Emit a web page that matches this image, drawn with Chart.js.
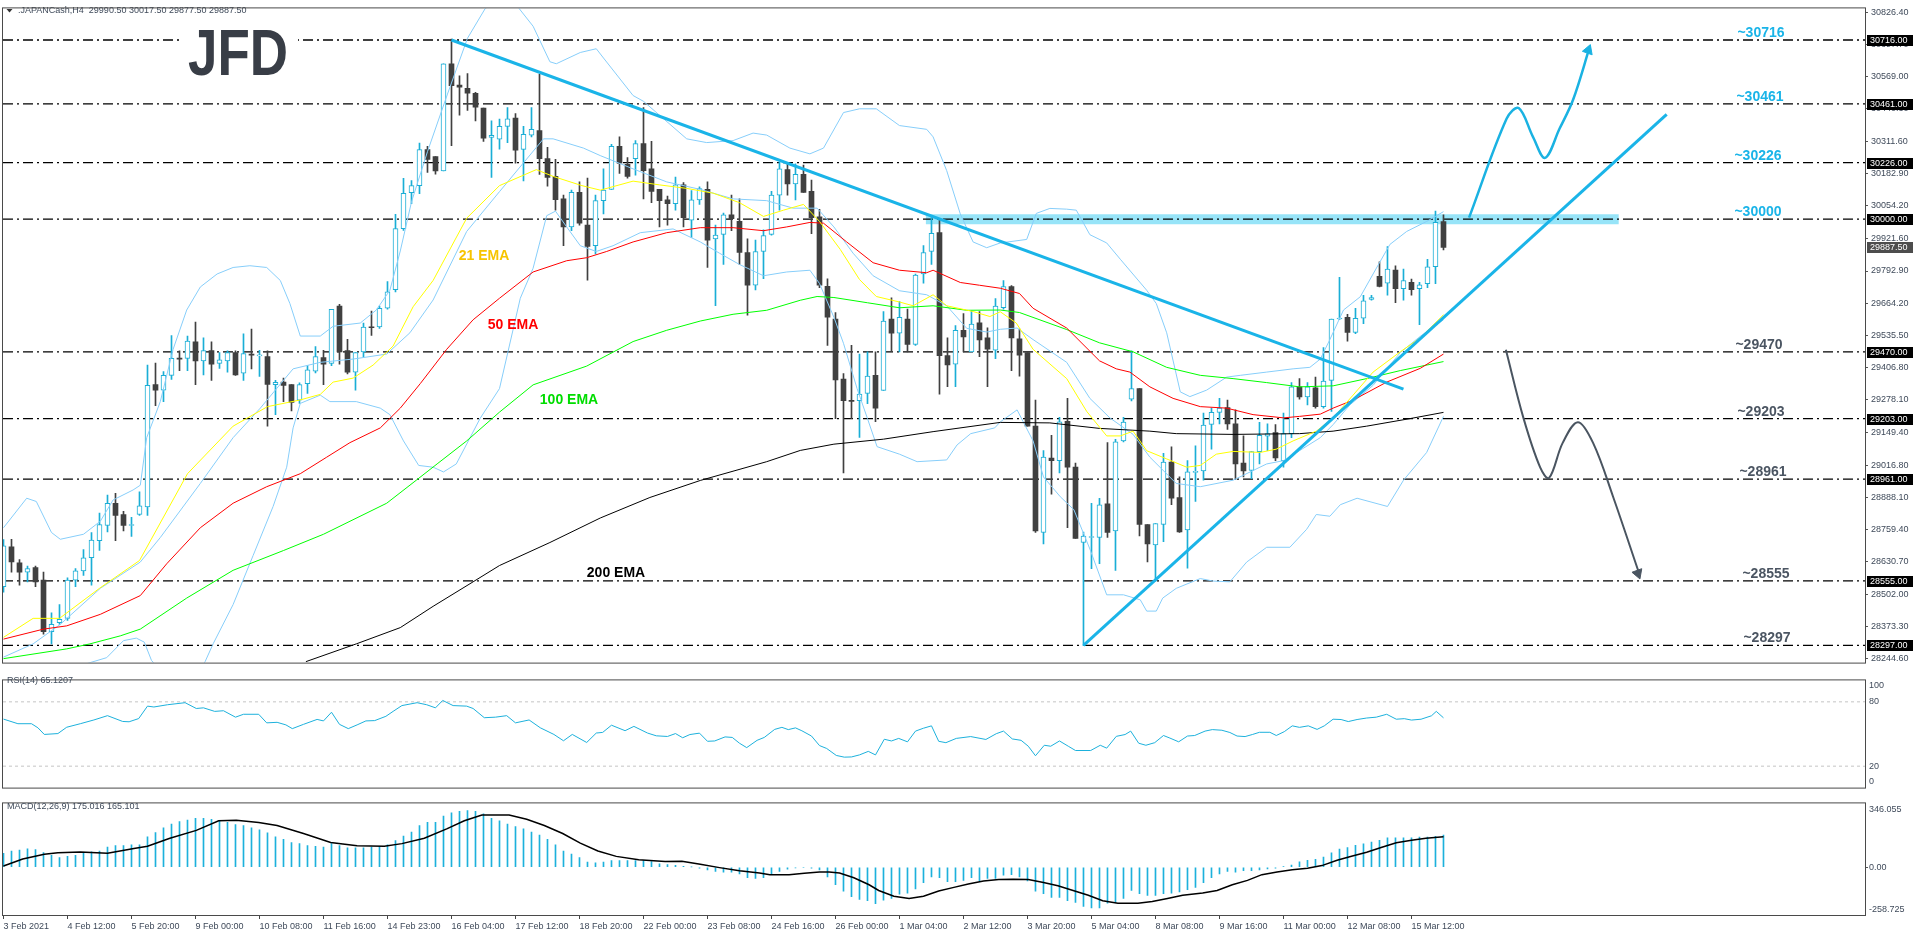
<!DOCTYPE html>
<html>
<head>
<meta charset="utf-8">
<title>JAPANCash H4</title>
<script src="https://cdn.jsdelivr.net/npm/chart.js@4.4.1/dist/chart.umd.min.js"></script>
<style>
  html, body { margin: 0; padding: 0; background: #fff; }
  body { width: 1916px; height: 936px; position: relative; overflow: hidden; }
  canvas { position: absolute; left: 0; }
</style>
</head>
<body>
<canvas id="mainChart" width="1916" height="671" style="top:0"></canvas>
<canvas id="rsiChart" width="1916" height="126" style="top:671px"></canvas>
<canvas id="macdChart" width="1916" height="139" style="top:797px"></canvas>
<script>
// H4 bars, index 0 = 3 Feb 2021
const barOpen = [
  28532, 28691, 28627, 28590, 28608, 28558, 28352, 28388, 28405, 28558,
  28595, 28647, 28715, 28776, 28865, 28820, 28776, 28820, 28850, 29339,
  29317, 29376, 29444, 29444, 29510, 29434, 29475, 29424, 29434, 29467,
  29385, 29459, 29454, 29451, 29339, 29349, 29339, 29277, 29343, 29393,
  29447, 29424, 29653, 29475, 29389, 29470, 29569, 29569, 29644, 29718,
  29962, 30106, 30134, 30278, 30250, 30193, 30621, 30536, 30523, 30503,
  30444, 30327, 30320, 30371, 30404, 30279, 30336, 30354, 30242, 30171,
  30081, 29969, 30107, 29976, 29894, 30074, 30119, 30291, 30219, 30242,
  30302, 30201, 30119, 30077, 30062, 30137, 29996, 30077, 30119, 29921,
  29939, 30017, 29991, 29867, 29736, 29871, 29939, 30096, 30198, 30141,
  30179, 30111, 30009, 29732, 29601, 29361, 29275, 29275, 29304, 29376,
  29316, 29601, 29545, 29601, 29500, 29781, 29871, 29946, 29455, 29421,
  29556, 29470, 29586, 29526, 29477, 29646, 29731, 29522, 29467, 29173,
  28748, 29045, 29035, 29192, 29009, 28708, 28728, 28728, 28863, 28754,
  29114, 29281, 29323, 28780, 28698, 28780, 29029, 28888, 28758, 28988,
  28994, 29180, 29228, 29247, 29182, 29025, 28996, 29071, 29133, 29147,
  29035, 29143, 29330, 29290, 29326, 29251, 29356, 29601, 29608, 29548,
  29604, 29679, 29772, 29744, 29797, 29722, 29748, 29722, 29742, 29810, 29990.5
];
const barHigh = [
  28720, 28721, 28640, 28614, 28614, 28590, 28427, 28460, 28567, 28604,
  28680, 28748, 28826, 28898, 28905, 28833, 28809, 28911, 29417, 29425,
  29391, 29535, 29474, 29533, 29589, 29526, 29510, 29467, 29474, 29474,
  29542, 29561, 29476, 29474, 29356, 29365, 29339, 29346, 29415, 29491,
  29476, 29640, 29660, 29520, 29467, 29585, 29633, 29653, 29751, 30019,
  30163, 30154, 30304, 30291, 30250, 30621, 30720, 30573, 30582, 30507,
  30444, 30393, 30400, 30446, 30422, 30371, 30446, 30579, 30287, 30239,
  30096, 30116, 30149, 30164, 30096, 30201, 30299, 30329, 30246, 30314,
  30446, 30311, 30119, 30092, 30168, 30146, 30114, 30129, 30149, 29976,
  30024, 30096, 30081, 29921, 29916, 29957, 30111, 30227, 30227, 30221,
  30216, 30156, 30039, 29762, 29627, 29383, 29496, 29461, 29470, 29470,
  29631, 29686, 29671, 29641, 29781, 29894, 30006, 30002, 29526, 29575,
  29623, 29635, 29631, 29566, 29683, 29755, 29735, 29561, 29467, 29277,
  29075, 29136, 29208, 29284, 29025, 28750, 28865, 28885, 29107, 29120,
  29208, 29474, 29323, 28780, 28784, 29064, 29090, 28970, 29035, 29094,
  29225, 29245, 29284, 29277, 29238, 29134, 29071, 29188, 29182, 29179,
  29225, 29347, 29363, 29347, 29369, 29487, 29601, 29768, 29620, 29644,
  29696, 29696, 29830, 29890, 29814, 29801, 29761, 29748, 29840, 30032, 30017.5
];
const barLow = [
  28510, 28590, 28538, 28551, 28532, 28342, 28303, 28381, 28397, 28532,
  28577, 28538, 28676, 28750, 28715, 28754, 28732, 28816, 28816, 29255,
  29271, 29360, 29395, 29395, 29339, 29378, 29356, 29404, 29389, 29376,
  29356, 29402, 29372, 29173, 29219, 29271, 29234, 29264, 29304, 29386,
  29339, 29415, 29421, 29382, 29317, 29451, 29536, 29563, 29640, 29709,
  29955, 30062, 30102, 30187, 30180, 30193, 30294, 30416, 30435, 30393,
  30311, 30167, 30280, 30306, 30224, 30153, 30329, 30179, 30132, 30036,
  29894, 29954, 29976, 29756, 29861, 30021, 30119, 30183, 30164, 30176,
  30081, 30066, 29969, 29976, 30036, 29969, 29927, 30059, 29807, 29654,
  29819, 29954, 29819, 29616, 29717, 29762, 29936, 30036, 30096, 30077,
  30107, 29942, 29726, 29496, 29203, 28986, 29203, 29128, 29263, 29191,
  29316, 29474, 29470, 29470, 29496, 29744, 29819, 29301, 29331, 29331,
  29470, 29470, 29451, 29331, 29443, 29640, 29395, 29373, 29173, 28748,
  28702, 28901, 28986, 28767, 28724, 28296, 28604, 28623, 28728, 28597,
  29110, 29274, 28734, 28630, 28554, 28711, 28859, 28748, 28606, 28872,
  28957, 29081, 29182, 29160, 28960, 28970, 28963, 29022, 29075, 29035,
  29009, 29127, 29281, 29258, 29245, 29245, 29232, 29598, 29513, 29543,
  29582, 29676, 29729, 29696, 29666, 29676, 29696, 29578, 29726, 29742, 29877.5
];
const barClose = [
  28695, 28630, 28590, 28604, 28551, 28352, 28381, 28401, 28558, 28595,
  28647, 28718, 28780, 28865, 28816, 28776, 28778, 28855, 29336, 29317,
  29376, 29444, 29441, 29513, 29434, 29475, 29421, 29438, 29467, 29378,
  29463, 29457, 29457, 29340, 29348, 29336, 29268, 29339, 29398, 29451,
  29421, 29640, 29470, 29389, 29467, 29569, 29566, 29644, 29710, 29962,
  30103, 30134, 30278, 30239, 30193, 30621, 30533, 30527, 30503, 30448,
  30324, 30335, 30371, 30401, 30276, 30339, 30359, 30242, 30167, 30078,
  29969, 30107, 29984, 29891, 30074, 30116, 30291, 30224, 30171, 30302,
  30194, 30111, 30074, 30062, 30137, 30006, 30077, 30122, 29916, 29936,
  30017, 30002, 29867, 29736, 29871, 29934, 30096, 30201, 30141, 30179,
  30107, 30006, 29736, 29608, 29358, 29275, 29272, 29301, 29373, 29245,
  29593, 29545, 29608, 29500, 29777, 29867, 29943, 29455, 29418, 29556,
  29530, 29581, 29518, 29481, 29653, 29731, 29526, 29457, 29173, 28754,
  29049, 29035, 29190, 29009, 28724, 28734, 28730, 28859, 28748, 29110,
  29189, 29323, 28780, 28702, 28784, 29029, 28885, 28750, 28990, 28990,
  29177, 29228, 29245, 29182, 29022, 28994, 29071, 29136, 29143, 29046,
  29143, 29330, 29290, 29330, 29251, 29353, 29601, 29604, 29548, 29604,
  29674, 29687, 29731, 29801, 29722, 29755, 29718, 29738, 29810, 29987, 29887.5
];

// time axis, one label every 8 bars
const timeLabels = ['3 Feb 2021', '4 Feb 12:00', '5 Feb 20:00', '9 Feb 00:00', '10 Feb 08:00',
  '11 Feb 16:00', '14 Feb 23:00', '16 Feb 04:00', '17 Feb 12:00', '18 Feb 20:00', '22 Feb 00:00',
  '23 Feb 08:00', '24 Feb 16:00', '26 Feb 00:00', '1 Mar 04:00', '2 Mar 12:00', '3 Mar 20:00',
  '5 Mar 04:00', '8 Mar 08:00', '9 Mar 16:00', '11 Mar 00:00', '12 Mar 08:00', '15 Mar 12:00'];

const priceTicks = [30826.4, 30697.7, 30569.0, 30440.3, 30311.6, 30182.9, 30054.2, 29921.6,
  29792.9, 29664.2, 29535.5, 29406.8, 29278.1, 29149.4, 29016.8, 28888.1, 28759.4, 28630.7,
  28502.0, 28373.3, 28244.6];

const levels = [30716, 30461, 30226, 30000, 29470, 29203, 28961, 28555, 28297];
const lastPrice = 29887.5;

// indicator lines as [bar, value]
const ema21 = [[0,28329],[3.7,28405],[7,28405],[12,28525],[17,28636],[23,28983],[28.7,29173],[33,29251],
  [37,29277],[39.6,29300],[41.2,29349],[43.7,29365],[46.2,29417],[48.7,29493],[51.2,29650],[53.7,29755],
  [57.9,30004],[62,30134],[66.6,30198],[68.7,30171],[72.3,30134],[74.6,30116],[78.7,30152],[82,30137],
  [85.4,30123],[88.7,30104],[92,30066],[95,30011],[97.5,30036],[100,30059],[102,29991],[104.6,29879],
  [107,29759],[109.1,29691],[112,29669],[113.7,29654],[116.2,29698],[117.9,29654],[121.2,29631],
  [123.3,29611],[124.6,29630],[126.6,29585],[128.7,29480],[132.9,29363],[135.4,29232],[137.9,29134],
  [139.6,29134],[141.2,29153],[142.9,29075],[145.4,29042],[147.9,29009],[149.6,29016],[151.6,29061],
  [153.7,29072],[157.1,29068],[159.1,29081],[161.2,29114],[164.1,29153],[166.2,29206],[168.7,29297],
  [171.2,29389],[174.6,29470],[177.1,29526],[180,29618]];
const ema50 = [[0,28322],[5,28362],[7.9,28375],[12.1,28421],[17.1,28496],[20.4,28623],[24.6,28767],
  [28.7,28865],[32.9,28931],[37.1,28983],[40.4,29049],[43.3,29107],[47.1,29166],[49.6,29245],[52.1,29343],
  [55.4,29480],[58.7,29598],[62,29684],[66.2,29789],[70.4,29834],[72.9,29846],[75.4,29871],[78.7,29909],
  [82.9,29946],[87.1,29966],[91.2,29966],[95,29954],[97.9,29969],[100.8,29987],[102.5,29984],[105.4,29909],
  [108.7,29826],[112,29796],[115.4,29786],[116.2,29796],[119.6,29747],[122,29736],[124.6,29724],[127,29703],
  [128.7,29644],[132.9,29565],[137,29434],[139.1,29402],[140.8,29389],[143.3,29330],[146.2,29284],
  [149.6,29251],[152.9,29245],[156.2,29219],[160,29206],[162,29212],[164.6,29221],[166.2,29245],
  [168.7,29277],[172.9,29349],[177.1,29404],[180,29461]];
const ema100 = [[0,28244],[7.9,28283],[10.8,28303],[14.6,28335],[17.1,28362],[22.9,28486],[28.7,28597],
  [35,28676],[40,28741],[47.9,28865],[51.6,28957],[54.2,29022],[57.9,29114],[62,29229],[66.2,29338],
  [72.9,29413],[78.7,29511],[82.9,29556],[87.1,29593],[91.2,29620],[95.4,29636],[99.6,29676],[101.7,29691],
  [103.8,29687],[108,29666],[112,29646],[116.2,29654],[120.4,29636],[124.6,29637],[127,29627],[132.9,29559],
  [137,29506],[141.2,29470],[145.4,29408],[149.6,29376],[153.7,29363],[157.9,29347],[162,29330],
  [166.2,29334],[170.4,29363],[174.6,29395],[180,29431]];
const ema200 = [[37.8,28232],[44.1,28303],[49.6,28368],[53.7,28453],[58.7,28551],[62,28616],[68.3,28708],
  [74.6,28806],[80.8,28888],[87.1,28956],[95.4,29031],[99.6,29076],[103.8,29101],[110,29121],[116.2,29151],
  [124.6,29188],[130.8,29186],[137,29164],[143.3,29153],[146.6,29143],[153.7,29140],[162,29143],
  [166.2,29153],[170.4,29173],[175.8,29203],[180,29228]];
const bbUpper = [[0,28767],[2.9,28885],[4.1,28872],[6,28748],[7.1,28721],[10,28741],[12.1,28793],
  [13.7,28878],[16.2,28918],[17.1,28937],[17.9,29127],[19.6,29271],[21.2,29480],[22.9,29637],[24.6,29729],
  [26.7,29781],[28.7,29807],[30.8,29814],[32.9,29807],[34.6,29755],[35.8,29663],[37.1,29533],[39.6,29533],
  [41.2,29572],[44.6,29585],[46.6,29637],[48.3,29716],[49.6,29873],[51,30069],[53,30270],[55.5,30500],
  [58,30723],[60.2,30841],[62,30880],[64,30860],[66.2,30771],[68.3,30629],[69.1,30621],[72.1,30666],
  [74.1,30681],[75,30644],[78.7,30494],[80,30471],[85.4,30321],[87.9,30306],[91.2,30314],[93.7,30344],
  [95.4,30336],[98.3,30284],[100.8,30261],[102.5,30284],[105,30426],[107,30441],[109.1,30441],[112,30374],
  [115.4,30359],[116.2,30329],[117.9,30194],[119.6,30021],[121.2,29909],[122.9,29886],[124.6,29905],
  [127.9,29919],[129.1,30023],[130.8,30043],[132.9,30040],[134.1,30036],[135.8,29938],[137.9,29905],
  [139.6,29840],[142.9,29716],[144.1,29663],[145.4,29546],[147.1,29310],[148.3,29291],[150.4,29317],
  [152.9,29369],[154.6,29376],[157.9,29389],[161.2,29402],[163.3,29408],[164.6,29441],[165.8,29519],
  [167.5,29637],[169.6,29690],[171.2,29781],[173.3,29899],[175.4,29951],[177.9,29991],[180,30030]];
const bbMiddle = [[0,28250],[3.7,28303],[7.1,28381],[12.1,28525],[17.1,28630],[19.6,28728],[24.6,28944],
  [28.7,29127],[32.1,29245],[36.2,29402],[39.6,29428],[43.7,29441],[47.9,29461],[50.8,29546],[53.7,29677],
  [57.9,29951],[62,30110],[67.5,30321],[68.7,30321],[72.5,30284],[74.6,30254],[78.7,30201],[82.9,30149],
  [87.1,30119],[91.2,30081],[95.4,30074],[98.7,30044],[101.7,30044],[103.8,29969],[106.2,29864],
  [108.7,29774],[112,29714],[115.4,29698],[117.9,29654],[120.4,29564],[122.9,29549],[124.6,29560],
  [126.7,29565],[128.7,29519],[132.9,29428],[135.8,29284],[138.3,29206],[141.2,29140],[143.3,29049],
  [146.6,28944],[149.6,28931],[153.7,28957],[157.9,29022],[160,29035],[162,29075],[164.6,29127],
  [166.2,29179],[168.3,29258],[171.2,29336],[174.6,29467],[177.1,29532],[180,29598]];
const bbLower = [[10.5,28225],[12.9,28248],[15,28316],[16.6,28326],[17.6,28310],[18.5,28237],[19.5,28200],
  [24.5,28200],[25.2,28232],[26.2,28303],[28.7,28460],[31.2,28656],[33.7,28852],[35.4,29009],[36.2,29166],
  [37.1,29264],[39.6,29297],[40.8,29271],[44.1,29271],[47.1,29245],[48.3,29219],[50,29114],[51.9,29016],
  [53.7,29009],[55,28990],[56.6,29022],[59.6,29205],[62,29323],[64.6,29684],[66.2,29804],[67.9,30014],
  [69,30032],[70.4,29969],[72.1,29894],[74.1,29871],[76.2,29894],[79.6,29946],[83.7,29961],[87.1,29909],
  [89.5,29864],[92,29819],[95,29774],[97.9,29789],[100.8,29796],[102,29743],[103.8,29608],[105,29504],
  [106.7,29323],[108,29203],[109.2,29091],[112,29061],[114.2,29031],[117.9,29038],[119.2,29098],
  [120.9,29143],[123.9,29166],[124.6,29190],[126.7,29238],[128.7,29114],[130,28970],[132.1,28891],
  [133.8,28839],[135.8,28682],[137.9,28499],[140,28499],[142.1,28479],[142.9,28434],[144.1,28434],
  [144.9,28486],[146.6,28525],[149.6,28564],[151.2,28554],[153.3,28551],[155.4,28630],[157.9,28689],
  [160.8,28689],[162.9,28761],[164.1,28820],[165.8,28813],[167.1,28859],[169.2,28885],[173,28852],
  [175,28957],[177.9,29068],[180,29212]];

const rsi14 = [[0,63.9],[1.8,59.6],[3.5,59.6],[4.3,55.8],[5.1,49.6],[6.8,50.4],[7.9,56.3],[9.6,59.6],
  [11.3,63.1],[13,67.1],[14.9,61.7],[15.7,61.4],[16.9,64.4],[18,76],[18.8,75.2],[20.5,77.3],[22.7,79.2],
  [24.1,73.8],[25,74.4],[26.4,71.1],[27.5,71.7],[29,65.7],[30,68.4],[31.9,68.4],[32.9,60.4],[34.2,60.9],
  [35.3,58.5],[36.1,55],[37.5,59],[39.2,63.6],[40,62.2],[41,70.3],[42,59],[43.1,55],[44.2,58.5],
  [45.3,62.2],[46.4,62.5],[47.8,66.5],[48.7,71.1],[49.8,76.5],[51.7,79.2],[52.9,77.3],[54,74.4],
  [54.9,81.3],[56.2,76.5],[57.9,76],[58.7,73.8],[60.1,65.2],[61.5,65.7],[62.9,67.1],[64,60.4],[65.7,63.1],
  [67.1,55.8],[68.8,49.6],[70,43.7],[71.1,49.6],[72.9,42.1],[74.1,50.9],[74.9,51.5],[76,58.2],[77.7,53.1],
  [78.8,57.1],[80.5,50.9],[81.6,48.3],[83,47.7],[84,50.4],[84.9,46.5],[85.8,49.5],[87,50.8],[88,43.2],
  [88.9,43.5],[90.2,47.3],[91.1,46.8],[92,41.4],[92.9,37.3],[94.2,44.1],[95.1,46.8],[96.4,54.3],
  [97.3,56.2],[98.1,54.1],[99,55.7],[99.8,53],[101,48.1],[102,39.2],[102.9,36.5],[104.1,30],[105.1,28.4],
  [106,28.6],[107,30.5],[108.1,33.8],[109,30.5],[110.1,45.1],[111,43.5],[111.9,45.9],[113,42.7],
  [114,52.7],[115,55.4],[116,57.6],[116.9,43.2],[117.8,41.9],[119.1,45.9],[120.9,47.6],[122.8,44.9],
  [124.1,50.3],[125,52.7],[126.1,45.4],[127.2,44.1],[128.1,38.6],[129,29.7],[130.1,39.5],[130.9,38.6],
  [132,43.5],[133.1,38.6],[134,34.6],[135.9,34.6],[137.1,39.5],[137.9,36.8],[139.1,47.8],[140.2,49.5],
  [140.9,52.7],[141.9,41.4],[142.8,39.5],[143.9,41.9],[145,48.6],[145.8,46.2],[146.9,42.7],[148,48.1],
  [148.9,48.6],[150.2,52.7],[151.1,54.1],[152.3,53.5],[153.3,51.4],[154.2,48.1],[155.2,47.6],[156.1,49.5],
  [157,51.6],[158.3,51.6],[159.1,48.6],[160.1,52.2],[161.1,57.6],[162,56.2],[163.1,57.6],[164.2,54.3],
  [165.1,57.6],[166.2,63.8],[167.2,63.5],[168.1,61.6],[169.2,63.5],[170.4,64.9],[171.6,65.7],[172.9,68.4],
  [174.1,63.8],[175.1,64.3],[176,63],[177.2,63.8],[178.5,67],[179.1,71.1],[180,65.1]];

// MACD main, one bar per H4 bar
const macdMain = [
  76, 88, 93, 100, 96, 79, 65, 53, 59, 65,
  79, 83, 88, 110, 117, 117, 121, 122, 165, 188,
  214, 234, 248, 255, 265, 265, 260, 252, 243, 231,
  226, 214, 203, 186, 165, 152, 134, 128, 117, 114,
  110, 128, 117, 105, 105, 105, 110, 114, 122, 145,
  169, 191, 226, 243, 243, 277, 295, 303, 307, 303,
  289, 265, 252, 234, 221, 208, 191, 174, 152, 122,
  88, 71, 53, 28, 24, 28, 36, 36, 36, 36,
  36, 31, 19, 14, 10, 5, 2, -5, -14, -22,
  -26, -26, -36, -57, -60, -57, -35, -22, -10, -4,
  0, -5, -14, -53, -95, -129, -160, -174, -181, -198,
  -178, -169, -146, -140, -117, -83, -53, -57, -78, -78,
  -71, -57, -74, -60, -60, -43, -40, -53, -74, -129,
  -143, -164, -164, -181, -191, -212, -220, -220, -195, -191,
  -169, -126, -143, -152, -152, -143, -140, -134, -122, -109,
  -83, -57, -36, -22, -26, -19, -19, -14, -9, -5,
  3, 12, 29, 38, 43, 55, 78, 98, 107, 119,
  127, 136, 146, 159, 159, 159, 159, 164, 164, 167, 175
];
const macdSignal = [[0,7],[2.4,45],[5.1,71],[6.8,79],[9.6,83],[13,76],[16.3,102],[18,114],[20.8,157],
  [24.1,200],[26.9,252],[29.1,255],[31.9,243],[34.2,226],[37.5,183],[40.9,134],[44.2,117],[47.6,114],
  [49.8,128],[52.6,157],[55.4,208],[57.6,252],[59.8,283],[63.2,283],[65.4,260],[67.6,226],[69.9,183],
  [72.1,131],[74.3,88],[76.6,59],[79.4,41],[82.7,31],[84.8,32],[87.1,16],[89.5,-2],[92,-19],[94.5,-31],
  [95.8,-40],[98.2,-40],[100.1,-33],[102,-26],[103.2,-26],[104.5,-31],[106.3,-57],[108.2,-95],
  [109.4,-126],[111.3,-157],[113.2,-169],[115,-157],[116.9,-129],[118.8,-109],[120.6,-91],[122.5,-74],
  [124.4,-67],[126.2,-65],[128.1,-67],[130,-83],[131.8,-100],[133.7,-126],[135.6,-152],[137.4,-181],
  [139.3,-195],[141.8,-195],[143.6,-186],[145.5,-169],[147.4,-152],[149.9,-140],[151.7,-126],[153.6,-95],
  [155.5,-71],[157.3,-40],[159.2,-26],[161.1,-14],[163,-5],[164.8,9],[166.7,38],[168.5,60],[170.4,81],
  [172.2,107],[174.1,133],[176,146],[177.8,157],[180,165]];

// analyst drawings, [bar, price]
const downTrend = [[56, 30716], [175, 29321]];
const upTrend = [[135, 28297], [207.9, 30419]];
const zone30000 = [[115.3, 30000], [201.9, 30000]];
const bullPath = [[183.2,30006],[187.9,30402],[189.4,30444],[191.2,30328],[192.7,30245],[194.5,30361],
  [196.2,30477],[198.3,30690]];
const bearPath = [[187.8,29478],[190,29205],[192.1,29007],[193.2,28966],[194.9,29106],[196.8,29189],
  [198.7,29106],[201.2,28891],[204.4,28590]];
const bullHead = [[198.1, 30675]];
const bearHead = [[204.3, 28585]];

// ---- look ----
Chart.defaults.font.family = '"Liberation Sans", Arial, sans-serif';
Chart.defaults.font.size = 9;
const TXT = '#3f4a5a';
const BULL = '#1aaed6', BEAR = '#404040';
const CYAN = '#1ab4e8', SLATE = '#4b5562';
const X_MIN = -0.0625, X_MAX = 232.69;
const AXIS_W = 51;
const levelTagX = [1761, 1760, 1758, 1758, 1759, 1761, 1763, 1766, 1767];
const emaTags = [
  {text: '21 EMA', color: '#f7c400', x: 484, y: 260},
  {text: '50 EMA', color: '#ff0000', x: 513, y: 329},
  {text: '100 EMA', color: '#00dd00', x: 569, y: 404},
  {text: '200 EMA', color: '#000000', x: 616, y: 577}
];

const xy = a => a.map(p => ({x: p[0], y: p[1]}));
const bars = barOpen.map((_, i) => i);
const rising = i => barClose[i] >= barOpen[i];

function lineDs(data, color, width, order, extra) {
  return Object.assign({type: 'line', data: xy(data), borderColor: color, borderWidth: width,
    pointRadius: 0, fill: false, tension: 0, order: order}, extra || {});
}
function headDs(data, color, rot) {
  return {type: 'line', data: xy(data), showLine: false, pointStyle: 'triangle', pointRadius: 6,
    pointRotation: rot, pointBackgroundColor: color, pointBorderColor: color, order: 0};
}

const frame = {
  id: 'frame',
  afterDraw(c) {
    const a = c.chartArea, ctx = c.ctx;
    ctx.save();
    ctx.strokeStyle = '#4a4a4a';
    ctx.lineWidth = 1;
    ctx.strokeRect(a.left - 0.5, a.top - 0.5, a.right - a.left + 1, a.bottom - a.top + 1);
    ctx.restore();
  }
};
const panelTitle = text => ({
  id: 'title_' + text.length,
  afterDraw(c) {
    const ctx = c.ctx;
    ctx.save();
    ctx.font = '9px "Liberation Sans"';
    ctx.fillStyle = TXT;
    ctx.textBaseline = 'middle';
    ctx.fillText(text, 7, 10);
    ctx.restore();
  }
});

const mainText = {
  id: 'mainText',
  afterDatasetsDraw(c) {
    const ctx = c.ctx, y = c.scales.y;
    ctx.save();
    // symbol header
    ctx.fillStyle = '#333';
    ctx.beginPath();
    ctx.moveTo(6.5, 9); ctx.lineTo(12.5, 9); ctx.lineTo(9.5, 12.5); ctx.closePath(); ctx.fill();
    ctx.font = '9px "Liberation Sans"';
    ctx.fillStyle = TXT;
    ctx.textBaseline = 'middle';
    ctx.fillText('.JAPANCash,H4  29990.50 30017.50 29877.50 29887.50', 18, 11);
    // logo
    ctx.fillStyle = '#fff';
    ctx.fillRect(180, 24, 118, 56);
    ctx.font = 'bold 65px "Liberation Sans"';
    ctx.textBaseline = 'alphabetic';
    const w = ctx.measureText('JFD').width;
    ctx.translate(188, 75);
    ctx.scale(100 / w, 1);
    ctx.fillStyle = '#383d46';
    ctx.fillText('JFD', 0, 0);
    ctx.setTransform(1, 0, 0, 1, 0, 0);
    // moving average names
    ctx.font = 'bold 14px "Liberation Sans"';
    ctx.textAlign = 'center';
    emaTags.forEach(t => { ctx.fillStyle = t.color; ctx.fillText(t.text, t.x, t.y); });
    // level names
    levels.forEach((lv, k) => {
      ctx.fillStyle = k < 4 ? CYAN : SLATE;
      ctx.fillText('~' + lv, levelTagX[k], y.getPixelForValue(lv) - 3);
    });
    ctx.restore();
  },
  afterDraw(c) {
    const ctx = c.ctx, y = c.scales.y;
    ctx.save();
    ctx.font = '9px "Liberation Sans"';
    ctx.textBaseline = 'middle';
    const box = (v, bg) => {
      const py = Math.round(y.getPixelForValue(v));
      ctx.fillStyle = bg;
      ctx.fillRect(1867, py - 5, 46, 11);
      ctx.fillStyle = '#fff';
      ctx.fillText(v.toFixed(2), 1870, py + 0.5);
    };
    levels.forEach(v => box(v, '#000'));
    box(lastPrice, '#4d4d4d');
    ctx.restore();
  }
};

const commonOpts = (top, bottom) => ({
  responsive: false,
  animation: false,
  devicePixelRatio: 1,
  events: [],
  layout: {autoPadding: false, padding: {left: 3, right: 0, top: top, bottom: bottom}},
  plugins: {legend: {display: false}, tooltip: {enabled: false}}
});
const hiddenX = {type: 'linear', min: X_MIN, max: X_MAX, display: false, offset: false};

// ---- price panel ----
const levelSets = levels.map(lv => lineDs([[X_MIN, lv], [X_MAX, lv]], '#000', 1.3, 7,
  {borderDash: [10, 4, 2, 4]}));

new Chart(document.getElementById('mainChart'), {
  type: 'bar',
  data: {
    datasets: [
      headDs(bullHead, '#1ab2e2', 20),
      headDs(bearHead, '#4a5561', 160),
      lineDs(bullPath, '#1ab2e2', 2.5, 1, {tension: 0.35}),
      lineDs(bearPath, '#4a5561', 2, 1, {tension: 0.35}),
      lineDs(downTrend, CYAN, 3, 2),
      lineDs(upTrend, CYAN, 3, 2),
      lineDs(ema21, '#ffff00', 1, 3),
      lineDs(ema50, '#ff0000', 1, 3),
      lineDs(ema100, '#00ff00', 1, 3),
      lineDs(ema200, '#000000', 1, 3),
      lineDs(bbUpper, '#87cefa', 1, 3),
      lineDs(bbMiddle, '#87cefa', 1, 3),
      lineDs(bbLower, '#87cefa', 1, 3),
      {type: 'bar', order: 4, grouped: false, barThickness: 5, minBarLength: 1,
        data: bars.filter(rising).map(i => ({x: i, y: [barOpen[i], barClose[i]]})),
        backgroundColor: '#ffffff', borderColor: BULL, borderWidth: 1, borderSkipped: false},
      {type: 'bar', order: 4, grouped: false, barThickness: 5, minBarLength: 1,
        data: bars.filter(i => !rising(i)).map(i => ({x: i, y: [barOpen[i], barClose[i]]})),
        backgroundColor: BEAR, borderWidth: 0},
      {type: 'bar', order: 5, grouped: false, barThickness: 1,
        data: bars.map(i => ({x: i, y: [barLow[i], barHigh[i]]})),
        backgroundColor: bars.map(i => rising(i) ? BULL : BEAR), borderWidth: 0},
      ...levelSets,
      lineDs(zone30000, '#97e4f8', 10, 8)
    ]
  },
  options: Object.assign(commonOpts(3, 2), {
    scales: {
      x: hiddenX,
      y: {
        position: 'right', min: 28228.2, max: 30842.2,
        afterFit: s => { s.width = AXIS_W; },
        afterBuildTicks: s => { s.ticks = priceTicks.map(v => ({value: v})); },
        ticks: {autoSkip: false, padding: 3, color: TXT, callback: v => Number(v).toFixed(2)},
        grid: {drawOnChartArea: false, tickLength: 3, color: '#555', tickColor: '#555'},
        border: {display: false}
      }
    }
  }),
  plugins: [frame, mainText]
});

// ---- RSI panel ----
const rsiTickPos = [95.2, 80, 20, 5.6];
const rsiTickText = ['100', '80', '20', '0'];
new Chart(document.getElementById('rsiChart'), {
  type: 'line',
  data: {
    datasets: [
      lineDs(rsi14, '#1db1dc', 1, 0),
      lineDs([[X_MIN, 80], [X_MAX, 80]], '#c4c4c4', 1, 1, {borderDash: [3, 3]}),
      lineDs([[X_MIN, 20], [X_MAX, 20]], '#c4c4c4', 1, 1, {borderDash: [3, 3]})
    ]
  },
  options: Object.assign(commonOpts(1, 1), {
    scales: {
      x: hiddenX,
      y: {
        position: 'right', min: 0, max: 100,
        afterFit: s => { s.width = AXIS_W; },
        afterBuildTicks: s => { s.ticks = rsiTickPos.map(v => ({value: v})); },
        ticks: {autoSkip: false, padding: 4, color: TXT, callback: (v, i) => rsiTickText[i]},
        grid: {drawOnChartArea: false, drawTicks: false},
        border: {display: false}
      }
    }
  }),
  plugins: [frame, panelTitle('RSI(14) 65.1207')]
});

// ---- MACD panel ----
const macdTickPos = [314.8, 0, -227.4];
const macdTickText = ['346.055', '0.00', '-258.725'];
new Chart(document.getElementById('macdChart'), {
  type: 'bar',
  data: {
    datasets: [
      lineDs(macdSignal, '#000000', 1.5, 0),
      {type: 'bar', order: 1, grouped: false, barThickness: 1,
        data: macdMain.map((v, i) => ({x: i, y: v})), backgroundColor: '#1db1dc', borderWidth: 0}
    ]
  },
  options: Object.assign(commonOpts(2, 0), {
    scales: {
      x: {
        type: 'linear', min: X_MIN, max: X_MAX, offset: false, position: 'bottom',
        afterFit: s => { s.height = 21; },
        afterBuildTicks: s => { s.ticks = timeLabels.map((_, k) => ({value: k * 8})); },
        ticks: {autoSkip: false, maxRotation: 0, minRotation: 0, align: 'start', padding: 2,
          color: TXT, callback: (v, k) => timeLabels[k]},
        grid: {drawOnChartArea: false, tickLength: 4, color: '#444', offset: false},
        border: {display: false}
      },
      y: {
        position: 'right', min: -258.725, max: 346.055,
        afterFit: s => { s.width = AXIS_W; },
        afterBuildTicks: s => { s.ticks = macdTickPos.map(v => ({value: v})); },
        ticks: {autoSkip: false, padding: 1, color: TXT, callback: (v, i) => macdTickText[i]},
        grid: {drawOnChartArea: false, tickLength: 3,
          tickColor: c => (c.tick && c.tick.value === 0) ? '#555' : 'rgba(0,0,0,0)'},
        border: {display: false}
      }
    }
  }),
  plugins: [frame, panelTitle('MACD(12,26,9) 175.016 165.101')]
});
</script>
</body>
</html>
